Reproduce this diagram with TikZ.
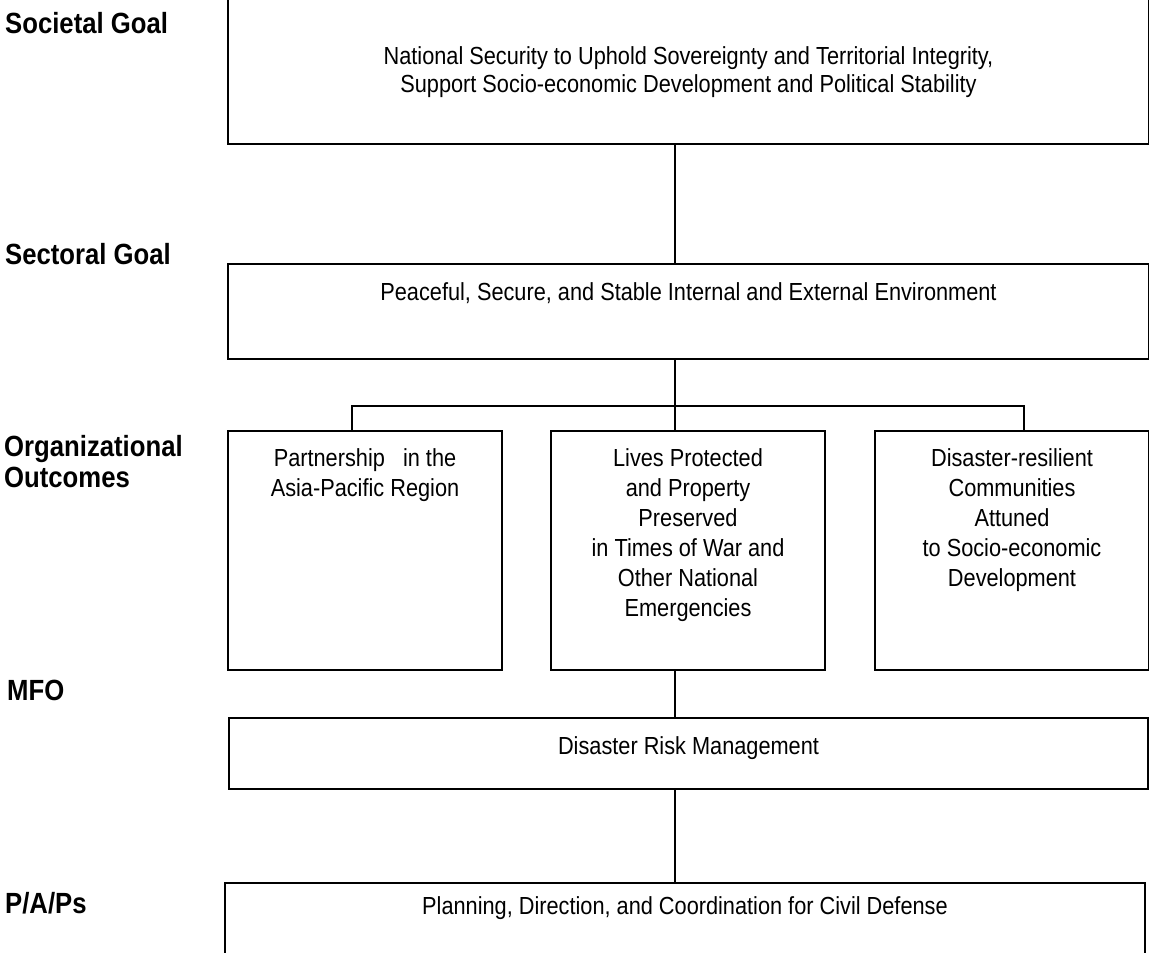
\documentclass[tikz,border=0pt]{standalone}
\usepackage{fontspec}
\setmainfont{Liberation Sans}[FakeStretch=0.88]
\newcommand{\boxtext}[4]{\parbox[t][#2][t]{#1}{\centering\rule{0pt}{#3}#4}}
\tikzset{
  goalbox/.style={draw, line width=2pt, inner sep=0pt, anchor=north west,
    font=\fontsize{24.7}{30}\selectfont},
  tier/.style={anchor=base west, inner sep=0pt, align=left,
    font=\bfseries\fontsize{29.2}{30.7}\selectfont},
  link/.style={line width=2pt},
}
\begin{document}
\begin{tikzpicture}[x=1pt,y=-1pt]
\useasboundingbox (0,0) rectangle (1149,953);
% tier labels
\node[tier] (lblsoc) at (5,33) {Societal Goal};
\node[tier] (lblsec) at (5,264) {Sectoral Goal};
\node[tier] (lbloo) at (4,487) {Organizational\\Outcomes};
\node[tier] (lblmfo) at (7,700) {MFO};
\node[tier] (lblpap) at (5,913) {P/A/Ps};
% boxes
\node[goalbox, font=\fontsize{24.7}{28}\selectfont] (societal) at (227,-10)
  {\boxtext{921pt}{153pt}{73pt}{National Security to Uphold Sovereignty and Territorial Integrity,\\
   Support Socio-economic Development and Political Stability}};
\node[goalbox] (sectoral) at (227,263)
  {\boxtext{921pt}{95pt}{36pt}{Peaceful, Secure, and Stable Internal and External Environment}};
\node[goalbox] (ooA) at (227,430)
  {\boxtext{274pt}{239pt}{35pt}{Partnership\ \ \ in the\\Asia-Pacific Region}};
\node[goalbox] (ooB) at (550,430)
  {\boxtext{274pt}{239pt}{35pt}{Lives Protected\\and Property\\Preserved\\in Times of War and\\Other National\\Emergencies}};
\node[goalbox] (ooC) at (874,430)
  {\boxtext{274pt}{239pt}{35pt}{Disaster-resilient\\Communities\\Attuned\\to Socio-economic\\Development}};
\node[goalbox] (mfo) at (228,717)
  {\boxtext{919pt}{71pt}{36pt}{Disaster Risk Management}};
\node[goalbox] (pap) at (224,882)
  {\boxtext{920pt}{100pt}{31pt}{Planning, Direction, and Coordination for Civil Defense}};
% connectors
\coordinate (trunk) at (675,406);
\coordinate (brA) at (352,406);
\coordinate (brC) at (1024,406);
\draw[link] (societal.south -| trunk) -- (sectoral.north -| trunk);
\draw[link] (sectoral.south -| trunk) -- (ooB.north -| trunk);
\draw[link] (brA |- ooA.north) -- (brA) -- (brC) -- (brC |- ooC.north);
\draw[link] (ooB.south -| trunk) -- (mfo.north -| trunk);
\draw[link] (mfo.south -| trunk) -- (pap.north -| trunk);
\end{tikzpicture}
\end{document}
